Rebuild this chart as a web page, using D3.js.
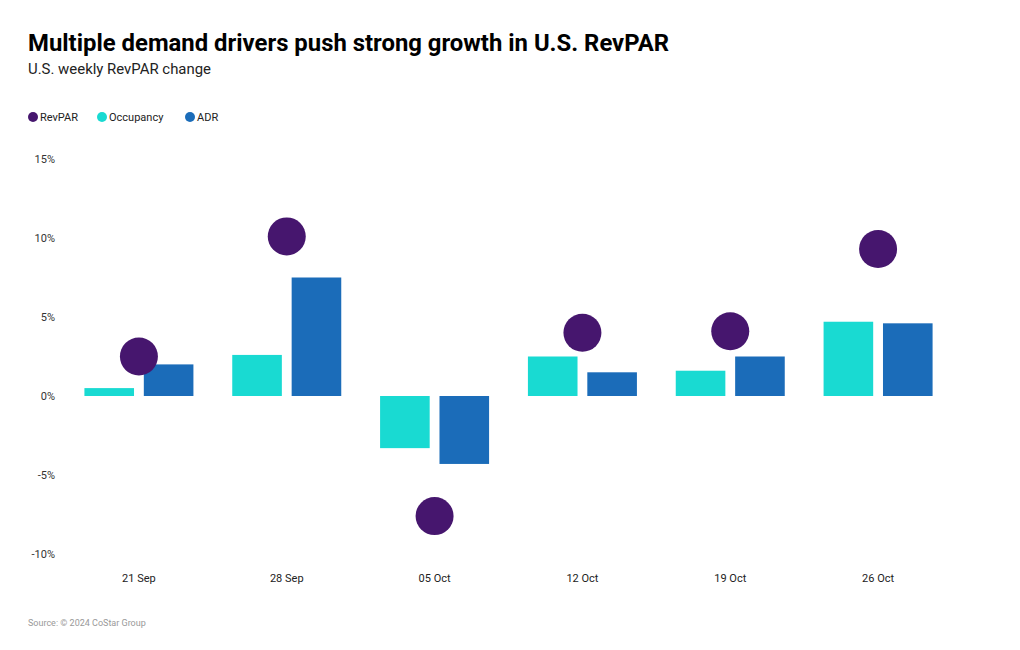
<!DOCTYPE html>
<html><head><meta charset="utf-8">
<script src="https://cdn.jsdelivr.net/npm/d3@7"></script>
<style>body{margin:0;background:#fff;font-family:Roboto,"Noto Sans",sans-serif;}</style>
</head><body><svg id="c" width="1020" height="650"></svg>
<script>
const categories = ["21 Sep","28 Sep","05 Oct","12 Oct","19 Oct","26 Oct"];
const occupancy = [0.5, 2.6, -3.3, 2.5, 1.6, 4.7];
const adr = [2.0, 7.5, -4.3, 1.5, 2.5, 4.6];
const revpar = [2.5, 10.1, -7.6, 4.0, 4.1, 9.3];
const yTicks = [-10, -5, 0, 5, 10, 15];
const seriesNames = ["RevPAR","Occupancy","ADR"];
const colors = {RevPAR:"#46166e", Occupancy:"#19dad2", ADR:"#1b6cb9"};

const svg = d3.select("#c");
const y = d3.scaleLinear().domain([-10,15]).range([554,159]);
const x = d3.scaleBand().domain(categories).range([65,952]).paddingInner(0).paddingOuter(0);
const sub = d3.scaleBand().domain(["Occupancy","ADR"]).range([0,109]).paddingInner(0.165);

svg.append("text").attr("x",28).attr("y",51).attr("font-size",23).attr("font-weight",700)
  .attr("fill","#000").attr("font-family","Roboto, sans-serif").attr("textLength",641).attr("lengthAdjust","spacingAndGlyphs")
  .text("Multiple demand drivers push strong growth in U.S. RevPAR");
svg.append("text").attr("x",28).attr("y",74).attr("font-size",15).attr("fill","#222")
  .attr("textLength",183).attr("lengthAdjust","spacingAndGlyphs")
  .text("U.S. weekly RevPAR change");

// legend
const legX = [33,102,190];
seriesNames.forEach((n,i)=>{
  svg.append("circle").attr("cx",legX[i]).attr("cy",117).attr("r",5).attr("fill",colors[n]);
  svg.append("text").attr("x",legX[i]+7).attr("y",121).attr("font-size",11).attr("fill","#222").text(n);
});

// y axis
const yAxis = d3.axisLeft(y).tickValues(yTicks).tickFormat(d=>d+"%").tickSize(0).tickPadding(0);
const ga = svg.append("g").attr("transform","translate(55,0)").call(yAxis);
ga.select(".domain").remove();
ga.selectAll("text").attr("font-size",11).attr("fill","#333").attr("font-family","Roboto, sans-serif");

// x axis
const xAxis = d3.axisBottom(x).tickSize(0).tickPadding(0);
const gx = svg.append("g").attr("transform","translate(0,574)").call(xAxis);
gx.select(".domain").remove();
gx.selectAll("text").attr("font-size",11).attr("fill","#222").attr("font-family","Roboto, sans-serif");

const groupOff = (x.bandwidth()-109)/2;
const data = categories.map((c,i)=>({c, Occupancy:occupancy[i], ADR:adr[i], RevPAR:revpar[i]}));
const g = svg.append("g");
["Occupancy","ADR"].forEach(s=>{
  g.selectAll(".b"+s).data(data).join("rect")
    .attr("x",d=>x(d.c)+groupOff+sub(s))
    .attr("width",sub.bandwidth())
    .attr("y",d=>y(Math.max(0,d[s])))
    .attr("height",d=>Math.abs(y(d[s])-y(0)))
    .attr("fill",colors[s]);
});
g.selectAll(".dot").data(data).join("circle")
  .attr("cx",d=>x(d.c)+x.bandwidth()/2)
  .attr("cy",d=>y(d.RevPAR))
  .attr("r",19).attr("fill",colors.RevPAR);

svg.append("text").attr("x",28).attr("y",626).attr("font-size",9).attr("fill","#999").text("Source: © 2024 CoStar Group");
</script></body></html>
